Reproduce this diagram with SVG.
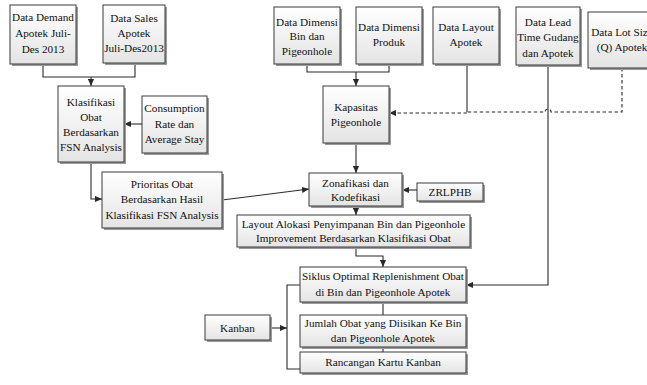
<svg xmlns="http://www.w3.org/2000/svg" width="647" height="385" viewBox="0 0 647 385">
<style>
.box{fill:url(#g);stroke:#3a3a3a;stroke-width:1}
.sh{fill:#9a9a9a}
text{font-family:"Liberation Serif","Times New Roman",serif;font-size:11.2px;fill:#111;text-anchor:middle}
.c{fill:none;stroke:#2a2a2a;stroke-width:1.1}
.a{marker-end:url(#ar)}
.d{stroke-dasharray:3.5,2.5}
</style>
<defs>
<linearGradient id="g" x1="0" y1="0" x2="0" y2="1">
<stop offset="0" stop-color="#ffffff"/>
<stop offset="1" stop-color="#e4e4e4"/>
</linearGradient>
<marker id="ar" viewBox="0 0 8 8" refX="8" refY="4" markerWidth="7" markerHeight="7" markerUnits="userSpaceOnUse" orient="auto">
<path d="M0,0.5 L8,4 L0,7.5 Z" fill="#2a2a2a"/>
</marker>
</defs>
<rect width="647" height="385" fill="#fff"/>

<g id="connectors">
<path class="c" d="M43,64 V77 H135 V63"/>
<path class="c a" d="M91,77 V86"/>
<path class="c a" d="M142,124 H124"/>
<path class="c a" d="M91,162 V199 H102"/>
<path class="c a" d="M222,200 L309,189"/>
<path class="c" d="M307,64 V72 H389 V64"/>
<path class="c a" d="M356,72 V86"/>
<path class="c" d="M467,64 V112"/>
<path class="c d" d="M622,68 V112 H551 A3,3 0 0 0 545,112 H467"/>
<path class="c d a" d="M467,113 H389"/>
<path class="c a" d="M356,143 V173"/>
<path class="c a" d="M417,190 H402"/>
<path class="c a" d="M356,206 V215"/>
<path class="c a" d="M356,247 V256 H383 V267"/>
<path class="c a" d="M548,65 V285 H466"/>
<path class="c" d="M383,302 V315"/>
<path class="c" d="M383,347 V352"/>
<path class="c" d="M300,285 H287 V369 H300"/>
<path class="c a" d="M270,328 H287"/>
</g>

<g id="demand"><rect class="sh" x="12" y="7" width="66" height="59"/><rect class="box" x="10" y="5" width="66" height="59"/>
<text x="43" y="21">Data Demand</text><text x="43" y="37">Apotek Juli-</text><text x="43" y="53">Des 2013</text></g>

<g id="sales"><rect class="sh" x="105" y="7" width="62" height="58"/><rect class="box" x="103" y="5" width="62" height="58"/>
<text x="134" y="22">Data Sales</text><text x="134" y="37">Apotek</text><text x="134" y="52">Juli-Des2013</text></g>

<g id="klasifikasi"><rect class="sh" x="60" y="88" width="66" height="76"/><rect class="box" x="58" y="86" width="66" height="76"/>
<text x="91" y="106">Klasifikasi</text><text x="91" y="121">Obat</text><text x="91" y="136">Berdasarkan</text><text x="91" y="151">FSN Analysis</text></g>

<g id="consumption"><rect class="sh" x="144" y="98" width="65" height="57"/><rect class="box" x="142" y="96" width="65" height="57"/>
<text x="174.5" y="112">Consumption</text><text x="174.5" y="128">Rate dan</text><text x="174.5" y="143">Average Stay</text></g>

<g id="prioritas"><rect class="sh" x="104" y="174" width="120" height="56"/><rect class="box" x="102" y="172" width="120" height="56"/>
<text x="162" y="188">Prioritas Obat</text><text x="162" y="203">Berdasarkan Hasil</text><text x="162" y="219">Klasifikasi FSN Analysis</text></g>

<g id="dimensi-bin"><rect class="sh" x="276" y="9" width="66" height="57"/><rect class="box" x="274" y="7" width="66" height="57"/>
<text x="307" y="26">Data Dimensi</text><text x="307" y="40">Bin dan</text><text x="307" y="55">Pigeonhole</text></g>

<g id="dimensi-produk"><rect class="sh" x="358" y="9" width="66" height="57"/><rect class="box" x="356" y="7" width="66" height="57"/>
<text x="389" y="31">Data Dimensi</text><text x="389" y="46">Produk</text></g>

<g id="layout-apotek"><rect class="sh" x="435" y="9" width="66" height="57"/><rect class="box" x="433" y="7" width="66" height="57"/>
<text x="466" y="31">Data Layout</text><text x="466" y="46">Apotek</text></g>

<g id="lead-time"><rect class="sh" x="518" y="9" width="64" height="58"/><rect class="box" x="516" y="7" width="64" height="58"/>
<text x="548" y="26">Data Lead</text><text x="548" y="41">Time Gudang</text><text x="548" y="57">dan Apotek</text></g>

<g id="lot-size"><rect class="sh" x="590" y="14" width="70" height="56"/><rect class="box" x="588" y="12" width="70" height="56"/>
<text x="622" y="36">Data Lot Size</text><text x="622" y="51">(Q) Apotek</text></g>

<g id="kapasitas"><rect class="sh" x="325" y="88" width="66" height="57"/><rect class="box" x="323" y="86" width="66" height="57"/>
<text x="356" y="111">Kapasitas</text><text x="356" y="126">Pigeonhole</text></g>

<g id="zonafikasi"><rect class="sh" x="311" y="175" width="93" height="33"/><rect class="box" x="309" y="173" width="93" height="33"/>
<text x="355.5" y="187">Zonafikasi dan</text><text x="355.5" y="201">Kodefikasi</text></g>

<g id="zrlphb"><rect class="sh" x="419" y="185" width="66" height="18"/><rect class="box" x="417" y="183" width="66" height="18"/>
<text x="450" y="196">ZRLPHB</text></g>

<g id="layout-alokasi"><rect class="sh" x="239" y="217" width="233" height="32"/><rect class="box" x="237" y="215" width="233" height="32"/>
<text x="353.5" y="228">Layout Alokasi Penyimpanan Bin dan Pigeonhole</text><text x="353.5" y="242">Improvement Berdasarkan Klasifikasi Obat</text></g>

<g id="siklus"><rect class="sh" x="302" y="269" width="166" height="35"/><rect class="box" x="300" y="267" width="166" height="35"/>
<text x="383" y="280">Siklus Optimal Replenishment Obat</text><text x="383" y="296">di Bin dan Pigeonhole Apotek</text></g>

<g id="jumlah"><rect class="sh" x="302" y="317" width="166" height="32"/><rect class="box" x="300" y="315" width="166" height="32"/>
<text x="383" y="327">Jumlah Obat yang Diisikan Ke Bin</text><text x="383" y="342">dan Pigeonhole Apotek</text></g>

<g id="rancangan"><rect class="sh" x="302" y="354" width="166" height="21"/><rect class="box" x="300" y="352" width="166" height="21"/>
<text x="383" y="366">Rancangan Kartu Kanban</text></g>

<g id="kanban"><rect class="sh" x="207" y="317" width="65" height="25"/><rect class="box" x="205" y="315" width="65" height="25"/>
<text x="237.5" y="332">Kanban</text></g>
</svg>
